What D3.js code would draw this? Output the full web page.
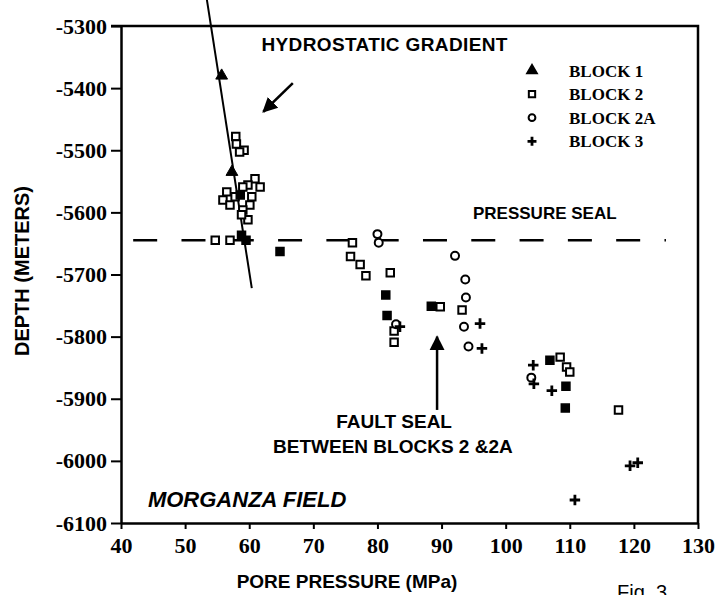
<!DOCTYPE html>
<html>
<head>
<meta charset="utf-8">
<script src="https://cdn.jsdelivr.net/npm/d3@7"></script>
<style>
  body { margin: 0; background: #fff; }
  svg { display: block; }
</style>
</head>
<body>
<svg class="chart" width="720" height="595"></svg>
<script>
// pore pressure (MPa), depth (m)
const block1 = [[55.7, -5380], [57.3, -5535]];

const block2 = [
  [57.9, -5478], [58.0, -5490], [59.2, -5500], [58.5, -5503],
  [60.9, -5546], [59.8, -5556], [61.7, -5559], [56.5, -5567], [59.0, -5559],
  [60.4, -5575], [55.9, -5580], [57.8, -5575], [57.0, -5588], [60.1, -5588],
  [59.0, -5596], [59.8, -5612], [58.8, -5604],
  [54.7, -5645], [57.0, -5645],
  [76.1, -5649], [75.8, -5671], [77.3, -5684], [78.2, -5702], [82.0, -5697],
  [82.6, -5791], [82.6, -5809], [89.8, -5752], [93.2, -5757],
  [108.5, -5833], [109.5, -5849], [110.0, -5857], [117.6, -5918]
];
// overlapping block 2 points that print solid
const block2Solid = [
  [58.8, -5637], [59.5, -5645], [58.6, -5572], [64.8, -5663],
  [81.3, -5733], [81.5, -5766], [88.4, -5751],
  [106.9, -5838], [109.4, -5880], [109.3, -5915]
];

const block2A = [
  [80.0, -5635], [80.2, -5649], [92.1, -5670], [93.7, -5708], [93.8, -5737],
  [93.5, -5784], [94.2, -5816], [82.9, -5780], [104.0, -5866]
];

const block3 = [
  [83.5, -5784], [96.0, -5779], [96.3, -5819], [104.3, -5846], [104.4, -5876],
  [107.2, -5887], [119.4, -6008], [120.6, -6003], [110.8, -6063]
];

const hydrostatic = [[53.4, -5258], [60.4, -5722]];
const sealDepth = -5645;
const sealRange = [41.9, 125];

const xTicks = d3.range(40, 131, 10);
const yTicks = d3.range(-5300, -6101, -100);

const legendNames = ["BLOCK 1", "BLOCK 2", "BLOCK 2A", "BLOCK 3"];

let svg = d3.select("svg.chart");

let x = d3.scaleLinear().domain([40, 130]).range([121, 698]);
let y = d3.scaleLinear().domain([-5300, -6100]).range([26, 523]);

const serif = "'Liberation Serif', 'Times New Roman', serif";
const sans = "'Liberation Sans', Arial, Helvetica, sans-serif";

// axes
let gx = svg.append("g").attr("transform", "translate(0,523)");
gx.call(d3.axisBottom(x).tickValues(d3.range(45, 130, 10)).tickSize(5).tickFormat("").tickSizeOuter(0));
gx.call(d3.axisBottom(x).tickValues(xTicks).tickSize(6).tickPadding(8).tickSizeOuter(0)
  .tickFormat(d => String(d)));

let gy = svg.append("g").attr("transform", "translate(121,0)");
gy.call(d3.axisLeft(y).tickValues(d3.range(-5350, -6100, -100)).tickSize(5).tickFormat("").tickSizeOuter(0));
gy.call(d3.axisLeft(y).tickValues(yTicks).tickSize(10).tickPadding(4).tickSizeOuter(0)
  .tickFormat(d => String(d)));

svg.selectAll(".domain").attr("stroke-width", 2.5);
svg.selectAll(".tick line").attr("stroke-width", 2);
svg.selectAll(".tick text")
  .attr("font-family", serif).attr("font-weight", "bold").attr("font-size", 22).attr("fill", "#000");

// frame top and right
svg.append("path")
  .attr("d", `M${x(40) - 10},${y(-5300)}H${x(130)}V${y(-6100)}`)
  .attr("fill", "none").attr("stroke", "#000").attr("stroke-width", 2.5);

// axis titles
svg.append("text")
  .attr("transform", "translate(29,271) rotate(-90)")
  .attr("text-anchor", "middle")
  .attr("font-family", sans).attr("font-weight", "bold").attr("font-size", 20)
  .text("DEPTH (METERS)");

svg.append("text")
  .attr("x", 347).attr("y", 588)
  .attr("text-anchor", "middle")
  .attr("font-family", sans).attr("font-weight", "bold").attr("font-size", 19)
  .text("PORE PRESSURE (MPa)");

svg.append("text")
  .attr("x", 617).attr("y", 599)
  .attr("font-family", sans).attr("font-size", 20)
  .text("Fig. 3");

// pressure seal dashed line
svg.append("line")
  .attr("x1", x(sealRange[0])).attr("x2", x(sealRange[1]))
  .attr("y1", y(sealDepth)).attr("y2", y(sealDepth))
  .attr("stroke", "#000").attr("stroke-width", 2.5)
  .attr("stroke-dasharray", "24,24.3");

// hydrostatic gradient
svg.append("path")
  .attr("d", d3.line().x(d => x(d[0])).y(d => y(d[1]))(hydrostatic))
  .attr("fill", "none").attr("stroke", "#000").attr("stroke-width", 2);

// markers
function drawSymbol(type, pts, filled, size, sw) {
  svg.append("g").selectAll("path")
    .data(pts)
    .enter()
    .append("path")
      .attr("transform", d => `translate(${x(d[0])},${y(d[1])})`)
      .attr("d", d3.symbol().type(type).size(size))
      .attr("fill", filled ? "#000" : "#fff")
      .attr("stroke", "#000")
      .attr("stroke-width", sw);
}

const plus = {
  draw(ctx, size) {
    const r = Math.sqrt(size) / 2;
    ctx.moveTo(-r, 0); ctx.lineTo(r, 0);
    ctx.moveTo(0, -r); ctx.lineTo(0, r);
  }
};

drawSymbol(d3.symbolSquare, block2, false, 56, 2);
drawSymbol(d3.symbolSquare, block2Solid, true, 64, 1.5);
drawSymbol(d3.symbolCircle, block2A, false, 50, 2);
drawSymbol(d3.symbolTriangle, block1, true, 60, 1);
drawSymbol(plus, block3, false, 110, 2.8);

// legend
let legendTypes = [d3.symbolTriangle, d3.symbolSquare, d3.symbolCircle, plus];
let legendSizes = [40, 40, 36, 80];
let legendFill = ["#000", "#fff", "#fff", "none"];
let lg = svg.append("g").selectAll("g")
  .data(legendNames)
  .enter()
  .append("g")
    .attr("transform", (d, i) => `translate(532,${70.5 + i * 23.6})`);
lg.append("path")
  .attr("d", (d, i) => d3.symbol().type(legendTypes[i]).size(legendSizes[i])())
  .attr("fill", (d, i) => legendFill[i])
  .attr("stroke", "#000").attr("stroke-width", (d, i) => i === 3 ? 2.8 : 2);
lg.append("text")
  .attr("x", 37).attr("y", 6)
  .attr("font-family", serif).attr("font-weight", "bold").attr("font-size", 17)
  .text(d => d);

// annotations
function label(txt, px, py, anchor, size, italic) {
  return svg.append("text")
    .attr("x", x(px)).attr("y", y(py))
    .attr("text-anchor", anchor)
    .attr("font-family", sans).attr("font-weight", "bold")
    .attr("font-style", italic ? "italic" : "normal")
    .attr("font-size", size)
    .text(txt);
}
label("HYDROSTATIC GRADIENT", 61.9, -5341, "start", 19)
  .attr("textLength", 246).attr("lengthAdjust", "spacing");
label("PRESSURE SEAL", 94.9, -5611, "start", 17);
label("FAULT SEAL", 82.6, -5947, "middle", 19);
label("BETWEEN BLOCKS 2 &2A", 101.1, -5987, "end", 19);
label("MORGANZA FIELD", 44.2, -6074, "start", 22, true);

svg.append("defs").append("marker")
  .attr("id", "head")
  .attr("viewBox", "0 0 10 10")
  .attr("refX", 9).attr("refY", 5)
  .attr("markerWidth", 6).attr("markerHeight", 8)
  .attr("markerUnits", "strokeWidth")
  .attr("orient", "auto")
  .append("path").attr("d", "M0,0L10,5L0,10Z").attr("fill", "#000");

const arrows = [
  [[66.8, -5392], [62.2, -5438]],
  [[89.3, -5918], [89.3, -5800]]
];
svg.append("g").selectAll("line")
  .data(arrows)
  .enter()
  .append("line")
    .attr("x1", d => x(d[0][0])).attr("y1", d => y(d[0][1]))
    .attr("x2", d => x(d[1][0])).attr("y2", d => y(d[1][1]))
    .attr("stroke", "#000").attr("stroke-width", 2.5)
    .attr("marker-end", "url(#head)");
</script>
</body>
</html>
